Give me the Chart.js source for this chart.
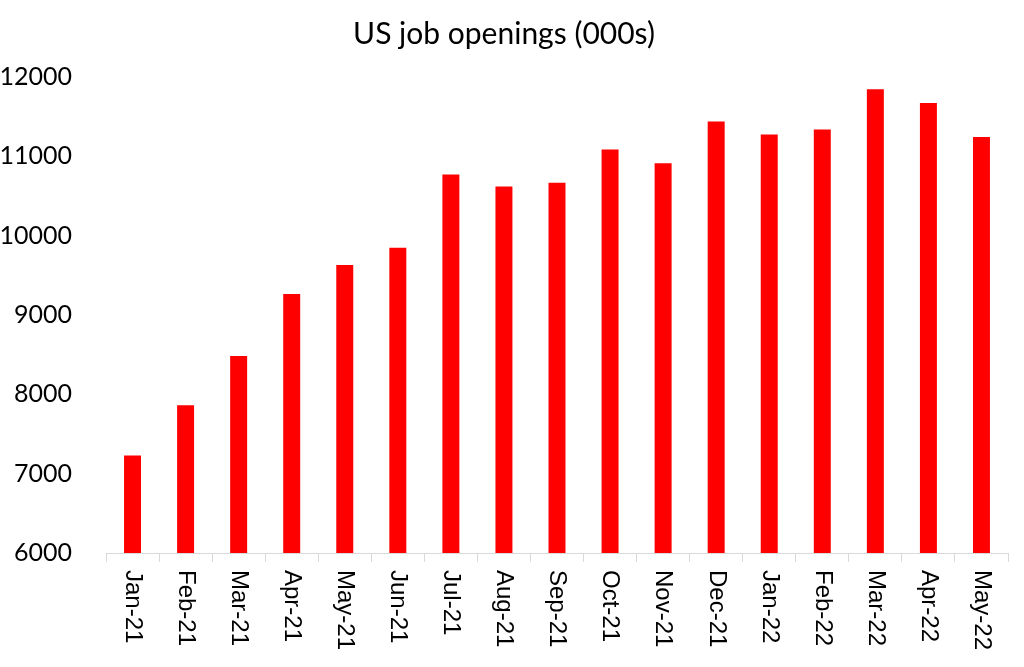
<!DOCTYPE html>
<html>
<head>
<meta charset="utf-8">
<title>US job openings</title>
<script src="https://cdn.jsdelivr.net/npm/chart.js@4"></script>
<style>
  html, body { margin: 0; padding: 0; background: #fff; }
  #wrap { width: 1024px; height: 667px; }
</style>
</head>
<body>
<div id="wrap"><canvas id="jobs-chart" width="1024" height="667"></canvas></div>
<script>
// month labels on the x axis
var months = ["Jan-21", "Feb-21", "Mar-21", "Apr-21", "May-21", "Jun-21", "Jul-21", "Aug-21",
  "Sep-21", "Oct-21", "Nov-21", "Dec-21", "Jan-22", "Feb-22", "Mar-22", "Apr-22", "May-22"];

// job openings, thousands
var openings = [7230, 7863, 8484, 9266, 9630, 9847, 10771, 10620,
  10666, 11086, 10914, 11439, 11275, 11338, 11846, 11673, 11245];

// y axis range
var yMin = 6000;
var yMax = 12000;
var yStep = 1000;

// labels are drawn turned clockwise, top to bottom, like in Excel
var verticalLabels = {
  id: "verticalLabels",
  afterDraw: function (chart) {
    var xs = chart.scales.x;
    var ctx = chart.ctx;
    ctx.save();
    ctx.fillStyle = "#000";
    ctx.font = "24px 'Liberation Sans', Arial, sans-serif";
    ctx.textAlign = "left";
    ctx.textBaseline = "middle";
    for (var i = 0; i < months.length; i++) {
      var x = xs.getPixelForTick(i);
      ctx.save();
      ctx.translate(x, xs.top + 17);
      ctx.rotate(Math.PI / 2);
      ctx.fillText(months[i], 0, 0);
      ctx.restore();
    }
    ctx.restore();
  }
};

var ctx = document.getElementById("jobs-chart").getContext("2d");
var myChart = new Chart(ctx, {
  type: "bar",
  data: {
    labels: months,
    datasets: [
      {
        label: "Job openings",
        backgroundColor: "#ff0000",
        data: openings,
        categoryPercentage: 1,
        barPercentage: 0.32
      }
    ]
  },
  options: {
    responsive: false,
    animation: false,
    layout: { padding: { left: 0, right: 16, top: 0, bottom: 0 } },
    plugins: {
      legend: { display: false },
      tooltip: { enabled: false },
      title: {
        display: true,
        text: "US job openings (000s)",
        color: "#000",
        font: { family: "Lato", size: 30, weight: "normal" },
        padding: { top: 16, bottom: 25 }
      }
    },
    scales: {
      x: {
        grid: {
          display: true,
          drawOnChartArea: false,
          drawTicks: true,
          tickLength: 9,
          color: "#d9d9d9",
          offset: true
        },
        border: { display: true, color: "#d9d9d9", width: 1 },
        ticks: { display: false },
        afterFit: function (scale) { scale.height = 114; }
      },
      y: {
        min: yMin,
        max: yMax,
        grid: { display: false },
        border: { display: false },
        ticks: {
          stepSize: yStep,
          color: "#000",
          padding: 26,
          font: { family: "Lato", size: 25 },
          callback: function (value) { return String(value); }
        },
        afterFit: function (scale) { scale.width = 106; }
      }
    }
  },
  plugins: [verticalLabels]
});
</script>
</body>
</html>
